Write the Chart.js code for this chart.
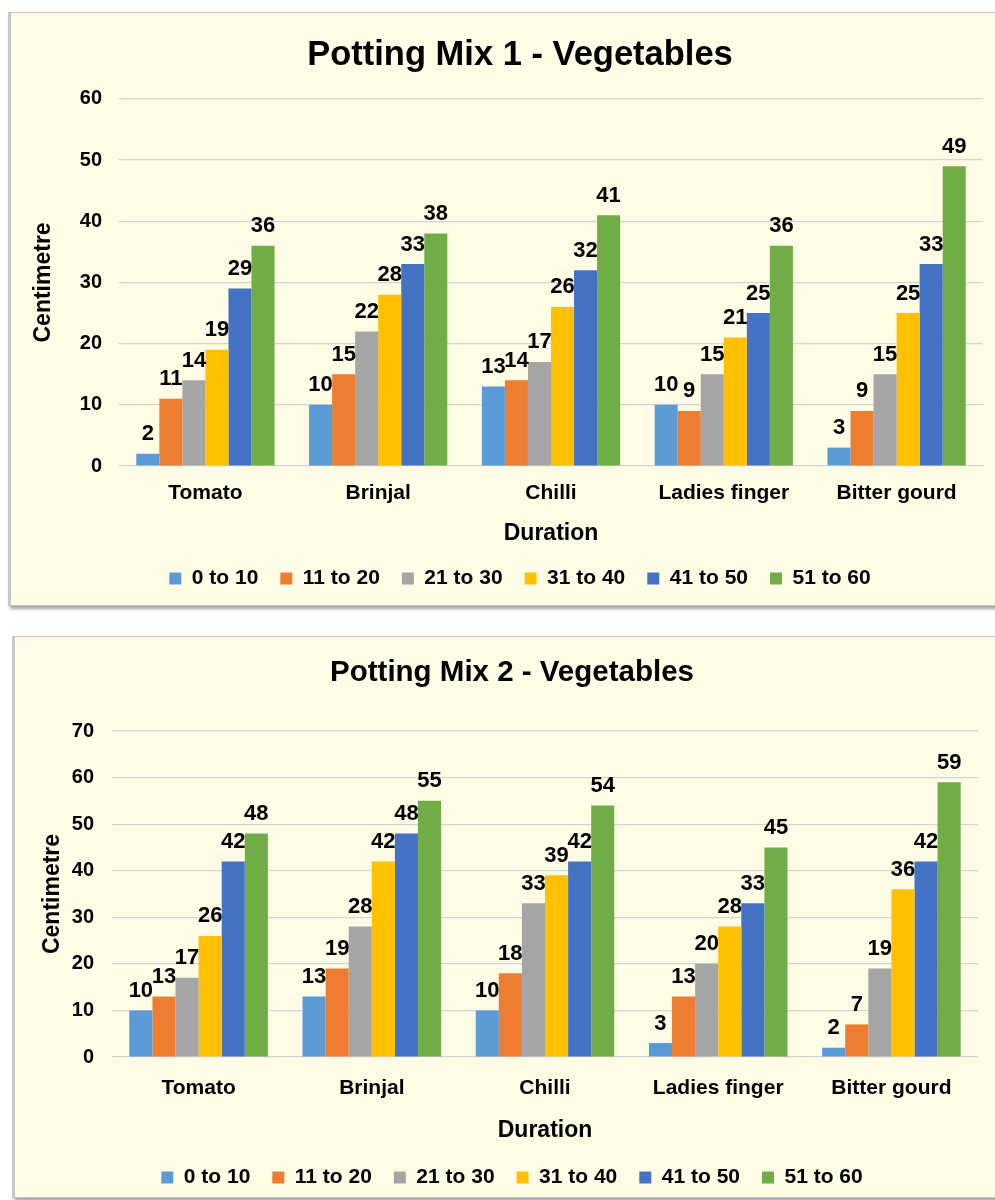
<!DOCTYPE html>
<html>
<head>
<meta charset="utf-8">
<script src="https://cdn.jsdelivr.net/npm/chart.js@4.4.1/dist/chart.umd.min.js"></script>
<style>
  html, body { margin: 0; padding: 0; background: #ffffff; overflow: hidden; width: 995px; height: 1200px; }
  .box { position: absolute; background: #fffce6; border: 1px solid #c4c4c4; border-left: 3px solid #c8c8c8; box-shadow: 2px 3px 3px rgba(0,0,0,0.35); }
  canvas { position: absolute; }
</style>
</head>
<body>
<div class="box" style="left:8px; top:12px; width:1040px; height:592px;"></div>
<div class="box" style="left:12px; top:636px; width:1040px; height:560px;"></div>
<canvas id="c1" width="1024" height="587" style="left:8px; top:12px;"></canvas>
<canvas id="c2" width="1000" height="562" style="left:12px; top:636px;"></canvas>
<script>
const categories = ['Tomato', 'Brinjal', 'Chilli', 'Ladies finger', 'Bitter gourd'];
const seriesLabels = ['0 to 10', '11 to 20', '21 to 30', '31 to 40', '41 to 50', '51 to 60'];
const seriesColors = ['#5B9BD5', '#ED7D31', '#A5A5A5', '#FFC000', '#4472C4', '#70AD47'];

// Potting Mix 1
const mix1_0to10  = [2, 10, 13, 10, 3];
const mix1_11to20 = [11, 15, 14, 9, 9];
const mix1_21to30 = [14, 22, 17, 15, 15];
const mix1_31to40 = [19, 28, 26, 21, 25];
const mix1_41to50 = [29, 33, 32, 25, 33];
const mix1_51to60 = [36, 38, 41, 36, 49];

// Potting Mix 2
const mix2_0to10  = [10, 13, 10, 3, 2];
const mix2_11to20 = [13, 19, 18, 13, 7];
const mix2_21to30 = [17, 28, 33, 20, 19];
const mix2_31to40 = [26, 42, 39, 28, 36];
const mix2_41to50 = [42, 48, 42, 33, 42];
const mix2_51to60 = [48, 55, 54, 45, 59];

const title1 = 'Potting Mix 1 - Vegetables';
const title2 = 'Potting Mix 2 - Vegetables';
const yTitle = 'Centimetre';
const xTitle = 'Duration';
const yMax1 = 60, yMax2 = 70, yStep = 10;

const FONT = '"Liberation Sans", Arial, sans-serif';

const valueLabels = {
  id: 'valueLabels',
  afterDatasetsDraw(chart) {
    const ctx = chart.ctx;
    ctx.save();
    ctx.font = 'bold 22px ' + FONT;
    ctx.fillStyle = '#000';
    ctx.textAlign = 'center';
    ctx.textBaseline = 'alphabetic';
    chart.data.datasets.forEach((ds, i) => {
      const meta = chart.getDatasetMeta(i);
      meta.data.forEach((el, j) => {
        ctx.fillText(String(ds.data[j]), el.x, el.y - 13.5);
      });
    });
    ctx.restore();
  }
};

function makeChart(id, seriesData, cfg) {
  const datasets = seriesData.map((d, i) => ({
    label: seriesLabels[i],
    data: d,
    backgroundColor: seriesColors[i],
    borderWidth: 0,
    categoryPercentage: 0.8,
    barPercentage: 1.0
  }));
  return new Chart(document.getElementById(id), {
    type: 'bar',
    data: { labels: categories, datasets },
    plugins: [valueLabels],
    options: {
      responsive: false,
      animation: false,
      devicePixelRatio: 1,
      layout: { padding: 0 },
      plugins: {
        title: {
          display: true,
          text: cfg.title,
          color: '#000',
          font: { family: FONT, size: cfg.titleSize, weight: 'bold', lineHeight: 1.2 },
          padding: { top: cfg.titleTop, bottom: cfg.titleBottom }
        },
        legend: {
          position: 'bottom',
          labels: {
            boxWidth: 12, boxHeight: 12, padding: 22,
            color: '#000',
            font: { family: FONT, size: 21, weight: 'bold' }
          }
        },
        tooltip: { enabled: false }
      },
      scales: {
        x: {
          grid: { display: false, drawTicks: false },
          border: { display: false },
          ticks: { color: '#000', padding: cfg.xTickPad, font: { family: FONT, size: 21, weight: 'bold' }, maxRotation: 0 },
          title: { display: true, text: xTitle, color: '#000', font: { family: FONT, size: 23, weight: 'bold', lineHeight: 1.2 }, padding: { top: 0, bottom: cfg.xTitlePad } },
          afterFit: s => { s.height = cfg.xHeight; }
        },
        y: {
          min: 0, max: cfg.yMax,
          grid: { color: '#d4d4d4', lineWidth: 1.2, drawTicks: false },
          border: { display: false },
          ticks: { stepSize: yStep, color: '#000', padding: cfg.yTickPad, font: { family: FONT, size: 20, weight: 'bold' } },
          title: { display: true, text: yTitle, color: '#000', font: { family: FONT, size: 23, weight: 'bold', lineHeight: 1.2 }, padding: { top: cfg.yTitlePad, bottom: 0 } },
          afterFit: s => { s.width = cfg.yWidth; }
        },
        yR: {
          type: 'linear',
          position: 'right',
          display: true,
          grid: { display: false },
          border: { display: false },
          ticks: { display: false },
          afterFit: s => { s.width = cfg.rightGap; }
        }
      }
    }
  });
}

makeChart('c1', [mix1_0to10, mix1_11to20, mix1_21to30, mix1_31to40, mix1_41to50, mix1_51to60], {
  title: title1, titleSize: 34.5, titleTop: 23, titleBottom: 22.5,
  xHeight: 80, xTickPad: 15, xTitlePad: -1.5,
  yMax: yMax1, yWidth: 111, yTickPad: 17, yTitlePad: 22.2, rightGap: 49
});

makeChart('c2', [mix2_0to10, mix2_11to20, mix2_21to30, mix2_31to40, mix2_41to50, mix2_51to60], {
  title: title2, titleSize: 29.5, titleTop: 19.3, titleBottom: 40.3,
  xHeight: 88, xTickPad: 19, xTitlePad: 0.5,
  yMax: yMax2, yWidth: 100, yTickPad: 18, yTitlePad: 26.7, rightGap: 34
});
</script>
</body>
</html>
